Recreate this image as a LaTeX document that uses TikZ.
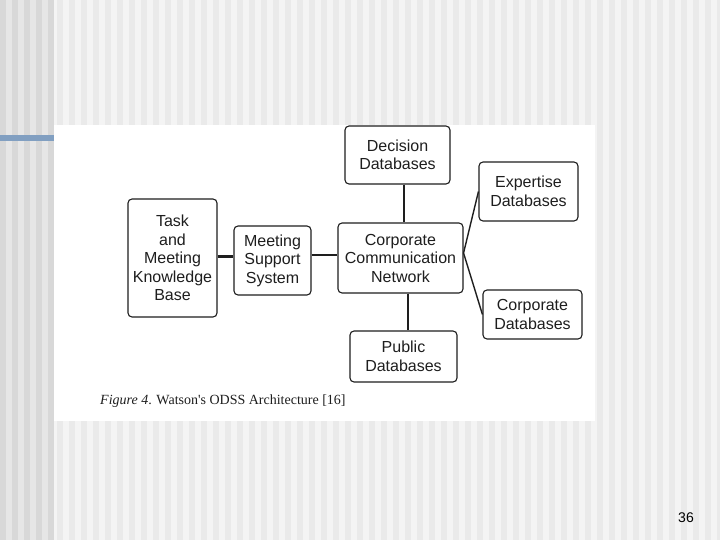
\documentclass[tikz,border=0pt]{standalone}
\usepackage{fontspec}
\usetikzlibrary{calc}
\setmainfont{Liberation Sans}
\newfontfamily\capfont{Liberation Serif}
\definecolor{bgA}{HTML}{F4F4F4}
\definecolor{bgB}{HTML}{EAEAEA}
\definecolor{lsA}{HTML}{E6E6E6}
\definecolor{lsB}{HTML}{D8D8D8}
\definecolor{barblue}{HTML}{819FC1}
\definecolor{ink}{HTML}{1E1E1E}
\tikzset{
  box/.style={draw=ink, line width=1.1pt, rounded corners=4pt, fill=white,
    align=center, inner sep=0pt, text=ink,
    font=\fontsize{16}{18.5}\selectfont},
  link/.style={draw=ink, line width=1.4pt},
  thicklink/.style={draw=ink, line width=3pt}
}
\begin{document}
\begin{tikzpicture}[x=1pt,y=-1pt]
\useasboundingbox (0,0) rectangle (720,540);
% background
\fill[bgA] (0,0) rectangle (720,540);
\foreach \i in {0,...,55} {
  \fill[bgB] ({54+12*\i+3},0) rectangle ({54+12*\i+9},540);
}
\fill[lsA] (0,0) rectangle (54,540);
\foreach \i in {0,...,4} {
  \fill[lsB] ({12*\i},0) rectangle ({12*\i+6},540);
}
\fill[barblue] (0,135) rectangle (54,141);
% scanned figure area
\fill[white] (54,125.5) rectangle (595,420.8);
% nodes
\node[box, minimum width=105pt, minimum height=58pt] (dec) at (397.5,155) {Decision\\Databases};
\node[box, minimum width=99pt, minimum height=59pt] (exp) at (528.5,191.5) {Expertise\\Databases};
\node[box, minimum width=89pt, minimum height=118pt] (task) at (172.5,258) {Task\\and\\Meeting\\Knowledge\\Base};
\node[box, minimum width=77pt, minimum height=69pt] (mss) at (272.5,260.5) {Meeting\\Support\\System};
\node[box, minimum width=125pt, minimum height=70pt] (ccn) at (400.5,258) {Corporate\\Communication\\Network};
\node[box, minimum width=99pt, minimum height=49pt] (cdb) at (532.5,314.5) {Corporate\\Databases};
\node[box, minimum width=107pt, minimum height=51pt] (pub) at (403.5,356.5) {Public\\Databases};
\coordinate (hub) at ($(ccn.east)+(0,-5)$);
% connectors
\draw[thicklink] (task.east |- 0,256.5) -- (mss.west |- 0,256.5);
\draw[link] (mss.east |- 0,255) -- (ccn.west |- 0,255);
\draw[link] (dec.south -| 404,0) -- (ccn.north -| 404,0);
\draw[link] (ccn.south -| 408,0) -- (pub.north -| 408,0);
\draw[link] (exp.west) -- (hub) -- (cdb.west);
% caption
\node[anchor=west, inner sep=0pt, text=ink, font=\capfont\fontsize{14}{16}\selectfont] (cap) at (100,401) {\textit{Figure 4}. Watson's ODSS Architecture [16]};
% page number
\node[inner sep=0pt, font=\fontsize{14}{16}\selectfont] (pg) at (686,518) {36};
\end{tikzpicture}
\end{document}
